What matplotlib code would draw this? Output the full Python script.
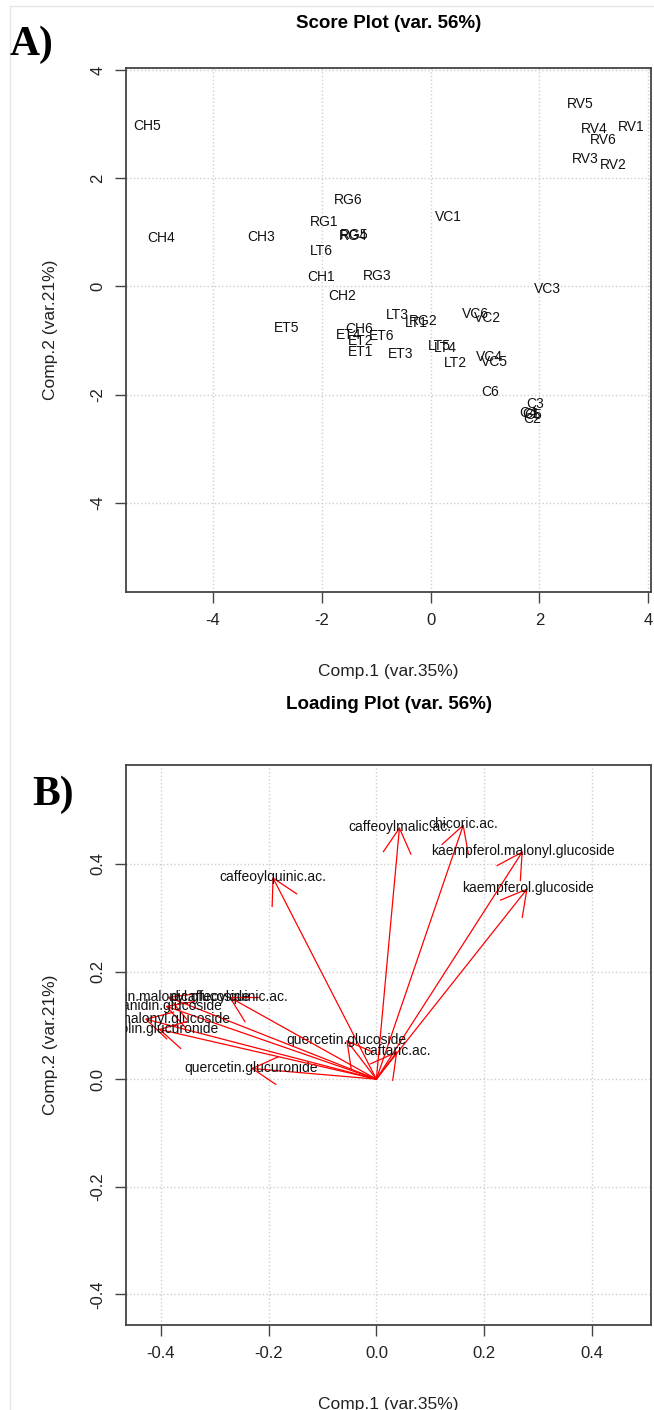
import matplotlib
matplotlib.use("Agg")
import matplotlib.pyplot as plt
from matplotlib.lines import Line2D

plt.rcParams['font.family'] = ['Liberation Sans', 'DejaVu Sans']

# Score plot data (Comp.1, Comp.2)
samples = ["CH5", "CH4", "CH3", "RG6", "RG1", "RG4", "RG5", "LT6", "VC1", "CH1",
           "RG3", "CH2", "VC3", "RV5", "RV4", "RV1", "RV6", "RV3", "RV2", "LT3",
           "RG2", "LT1", "VC6", "VC2", "ET5", "ET4", "CH6", "ET2", "ET6", "ET1",
           "ET3", "LT5", "LT4", "LT2", "VC4", "VC5", "C6", "C3", "C4", "C5",
           "C1", "C2"]
score_x = [-5.22, -4.95, -3.11, -1.52, -1.96, -1.43, -1.41, -2.00, 0.33, -2.01,
           -0.99, -1.63, 2.14, 2.75, 3.00, 3.68, 3.17, 2.84, 3.35, -0.62,
           -0.13, -0.26, 0.82, 1.04, -2.64, -1.50, -1.32, -1.28, -0.90, -1.28,
           -0.55, 0.16, 0.27, 0.46, 1.08, 1.17, 1.10, 1.92, 1.79, 1.89,
           1.85, 1.87]
score_y = [2.97, 0.89, 0.92, 1.59, 1.20, 0.94, 0.95, 0.66, 1.29, 0.18,
           0.20, -0.17, -0.04, 3.38, 2.92, 2.95, 2.71, 2.36, 2.25, -0.52,
           -0.63, -0.68, -0.50, -0.59, -0.77, -0.89, -0.79, -1.00, -0.92, -1.22,
           -1.24, -1.11, -1.14, -1.42, -1.31, -1.40, -1.96, -2.18, -2.34, -2.38,
           -2.36, -2.45]

# Loading plot data
variables = ["caffeoylquinic.ac.", "caffeoylmalic.ac.", "chicoric.ac.",
             "kaempferol.malonyl.glucoside", "kaempferol.glucoside",
             "quercetin.glucoside", "caftaric.ac.", "quercetin.glucuronide",
             "cyanidin.malonyl.glucoside", "dicaffeoylquinic.ac.",
             "cyanidin.glucoside", "quercetin.malonyl.glucoside",
             "luteolin.glucuronide"]
load_x = [-0.193, 0.043, 0.162, 0.272, 0.281, -0.056, 0.039, -0.233,
          -0.388, -0.274, -0.392, -0.430, -0.405]
load_y = [0.376, 0.469, 0.474, 0.424, 0.355, 0.073, 0.052, 0.020,
          0.153, 0.153, 0.136, 0.112, 0.093]

W, H = 654, 1410
fig = plt.figure(figsize=(W / 100, H / 100), dpi=100)

# light frame of the original screenshot
fig.add_artist(Line2D([10 / W, 1], [1 - 6 / H] * 2, color='#e6e6e6', lw=1))
fig.add_artist(Line2D([10 / W] * 2, [0, 1 - 6 / H], color='#e6e6e6', lw=1))

axA = fig.add_axes([126 / W, 1 - 592 / H, 525 / W, 524 / H])
axB = fig.add_axes([126 / W, 1 - 1325 / H, 525 / W, 560 / H])


def style_axes(ax, ticks, labels, w_px, h_px):
    ax.set_xticks(ticks)
    ax.set_yticks(ticks)
    ax.set_xticklabels(labels, fontsize=12, color='#222222')
    ax.set_yticklabels(labels, fontsize=12, color='#222222', rotation=90, va='center')
    ax.tick_params(length=8, width=1, color='#444444', pad=7)
    ax.grid(True, linestyle=':', color='#cfcfcf', lw=1)
    ax.set_axisbelow(True)
    for s in ax.spines.values():
        s.set_color('#444444')
        s.set_linewidth(1.3)
    ax.set_xlabel('Comp.1 (var.35%)', fontsize=12.5, color='#222222')
    ax.set_ylabel('Comp.2 (var.21%)', fontsize=12.5, color='#222222')
    ax.xaxis.set_label_coords(0.5, -72 / h_px)
    ax.yaxis.set_label_coords(-68 / w_px, 0.5)


# A) Score plot
axA.set_xlim(-5.6, 4.05)
axA.set_ylim(-5.65, 4.04)
style_axes(axA, [-4, -2, 0, 2, 4], ['-4', '-2', '0', '2', '4'], 525, 524)
for name, x, y in zip(samples, score_x, score_y):
    axA.text(x, y, name, ha='center', va='center', fontsize=10, color='#111111')
axA.text(0.5, 1 + 44 / 524, 'Score Plot (var. 56%)', transform=axA.transAxes,
         ha='center', va='center', fontsize=13.5, fontweight='bold')
fig.text(10 / W, 1 - 45 / H, 'A)', fontsize=30, fontweight='bold',
         family='Liberation Serif', va='center', ha='left')

# B) Loading plot
axB.set_xlim(-0.465, 0.51)
axB.set_ylim(-0.457, 0.584)
style_axes(axB, [-0.4, -0.2, 0.0, 0.2, 0.4], ['-0.4', '-0.2', '0.0', '0.2', '0.4'], 525, 560)
for name, x, y in zip(variables, load_x, load_y):
    axB.annotate('', xy=(x, y), xytext=(0, 0),
                 arrowprops=dict(arrowstyle='->,head_length=1.8,head_width=1.0',
                                 color='red', lw=0.9, shrinkA=0, shrinkB=0,
                                 mutation_scale=10))
    axB.text(x, y, name, ha='center', va='center', fontsize=10,
             color='#111111', clip_on=True)
axB.text(0.5, 1 + 60 / 560, 'Loading Plot (var. 56%)', transform=axB.transAxes,
         ha='center', va='center', fontsize=13.5, fontweight='bold')
fig.text(32 / W, 1 - 795 / H, 'B)', fontsize=30, fontweight='bold',
         family='Liberation Serif', va='center', ha='left')

fig.savefig('out.png', dpi=100, facecolor='white')
